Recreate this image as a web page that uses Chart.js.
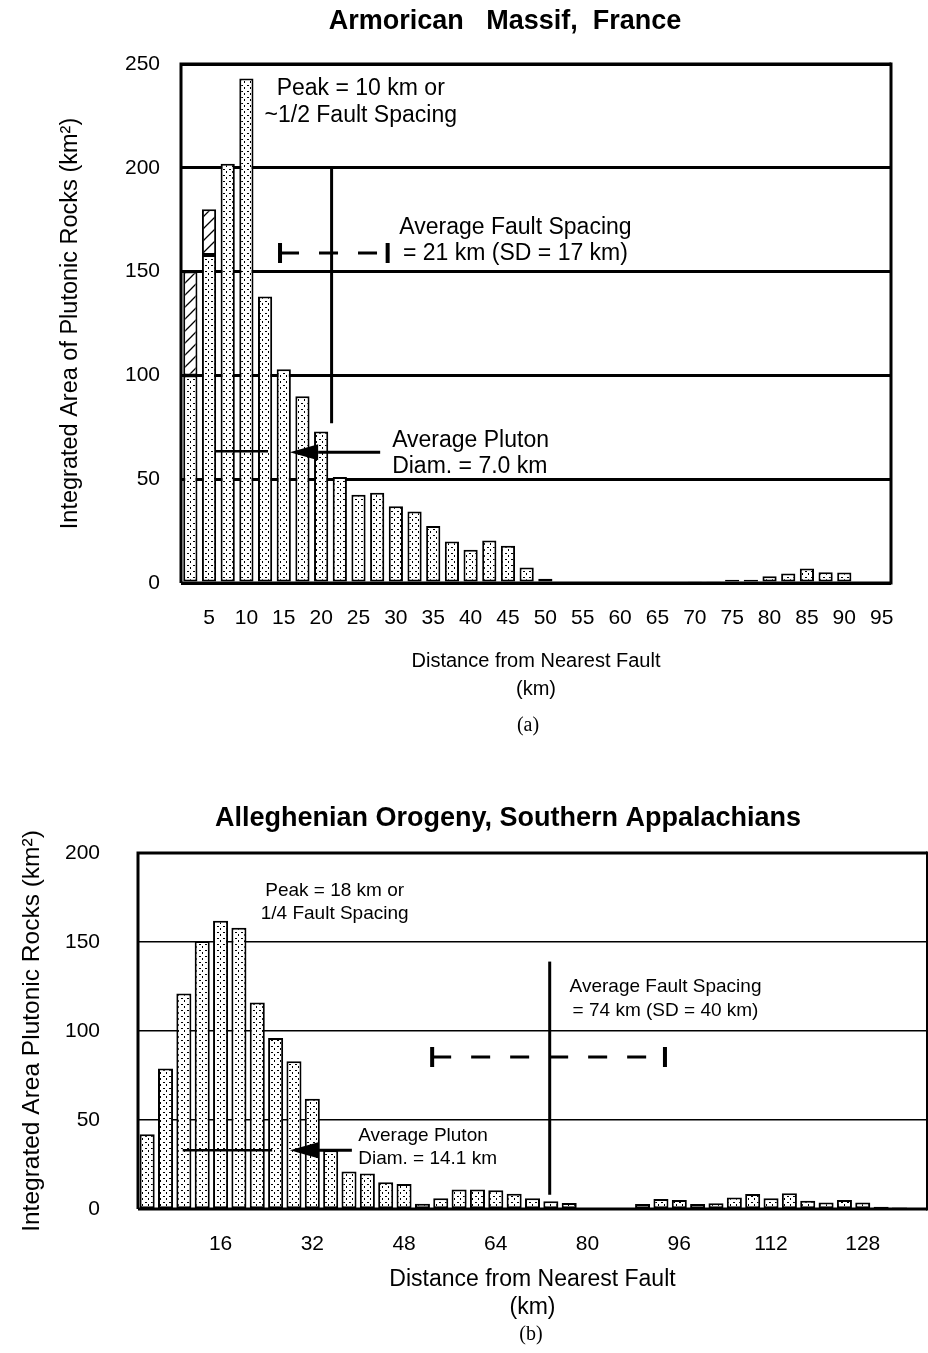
<!DOCTYPE html>
<html>
<head>
<meta charset="utf-8">
<script src="https://cdn.jsdelivr.net/npm/chart.js@4.4.1/dist/chart.umd.min.js"></script>
<style>
  body { margin: 0; background: #fff; }
  #wrap { position: relative; width: 928px; height: 1353px; }
  canvas { position: absolute; left: 0; }
</style>
</head>
<body>
<div id="wrap">
  <canvas id="chartA" width="928" height="745" style="top:0"></canvas>
  <canvas id="chartB" width="928" height="608" style="top:745px"></canvas>
</div>
<script>
// (a) Armorican Massif, 2.5 km bins
const kmA = [2.5, 5, 7.5, 10, 12.5, 15, 17.5, 20, 22.5, 25, 27.5, 30, 32.5, 35, 37.5, 40, 42.5, 45, 47.5, 50,
             52.5, 55, 57.5, 60, 62.5, 65, 67.5, 70, 72.5, 75, 77.5, 80, 82.5, 85, 87.5, 90, 92.5, 95];
const areaA = [100, 158, 202, 243, 138, 103, 90, 73, 51, 42.5, 43.5, 37, 34.5, 27.5, 20, 16, 20.5, 18, 7.5, 2,
               0, 0, 0, 0, 0, 0, 0, 0.8, 0.8, 1.6, 1.6, 3.3, 4.6, 7, 5.2, 5, 0, 0];
const hatchA = [50, 22, 0, 0, 0, 0, 0, 0, 0, 0, 0, 0, 0, 0, 0, 0, 0, 0, 0, 0,
                0, 0, 0, 0, 0, 0, 0, 0, 0, 0, 0, 0, 0, 0, 0, 0, 0, 0];
const tickLabelsA = ['5', '10', '15', '20', '25', '30', '35', '40', '45', '50', '55', '60', '65', '70', '75', '80', '85', '90', '95'];

// (b) Alleghenian Orogeny, 3.2 km bins
const kmB = [3.2, 6.4, 9.6, 12.8, 16, 19.2, 22.4, 25.6, 28.8, 32, 35.2, 38.4, 41.6, 44.8, 48, 51.2, 54.4, 57.6, 60.8, 64,
             67.2, 70.4, 73.6, 76.8, 80, 83.2, 86.4, 89.6, 92.8, 96, 99.2, 102.4, 105.6, 108.8, 112, 115.2, 118.4, 121.6,
             124.8, 128, 131.2, 134.4, 137.6];
const areaB = [42, 79, 121, 150.5, 162, 158, 116, 96, 83, 62, 33, 21, 20, 15, 14, 3, 6, 11, 11, 10.5,
               8.5, 6, 4.3, 3.4, 0, 0, 0, 2.8, 5.6, 5, 2.8, 3.2, 6.5, 8.4, 6, 8.8, 4.7, 3.7, 5, 3.7,
               1.3, 0.8, 0];
const tickLabelsB = ['16', '32', '48', '64', '80', '96', '112', '128'];

// annotations, in km / km2
const notesA = {
  bin: 2.5,
  peak: {km: 25.3, lines: [[238, 'Peak = 10 km or'], [225, '~1/2 Fault Spacing']]},
  spacing: {km: 46, lines: [[171, 'Average Fault Spacing'], [158.5, '= 21 km (SD = 17 km)']]},
  fault: {km: 21.4, from: 200, to: 77},
  dash: {from: 14.5, to: 28.9, at: 159},
  pluton: {from: 5.8, to: 12.9, at: 63.5},
  arrow: {tip: 15.8, base: 19.6, tail: 27.9, at: 63},
  plutonText: {km: 29.5, lines: [[68.4, 'Average Pluton'], [55.9, 'Diam. = 7.0 km']]},
  font: 23
};
const notesB = {
  bin: 3.2,
  peak: {km: 35.9, lines: [[179, 'Peak = 18 km or'], [165.7, '1/4 Fault Spacing']]},
  spacing: {km: 93.6, lines: [[124.7, 'Average Fault Spacing'], [111.2, '= 74 km (SD = 40 km)']]},
  fault: {km: 73.4, from: 139, to: 8},
  dash: {from: 52.9, to: 93.5, at: 85.4},
  pluton: {from: 9.4, to: 25, at: 33},
  arrow: {tip: 28.1, base: 33, tail: 38.9, at: 33},
  plutonText: {km: 40, lines: [[41, 'Average Pluton'], [28.1, 'Diam. = 14.1 km']]},
  font: 19
};

const SANS = '"Liberation Sans", Arial, Helvetica, sans-serif';

function makePatterns(canvas) {
  const ctx = canvas.getContext('2d');
  const d = document.createElement('canvas');
  d.width = 6; d.height = 6;
  let g = d.getContext('2d');
  g.fillStyle = '#fff'; g.fillRect(0, 0, 6, 6);
  g.fillStyle = '#000';
  g.fillRect(1, 1, 2, 1); g.fillRect(4, 3, 1, 2);
  const h = document.createElement('canvas');
  h.width = 12; h.height = 12;
  g = h.getContext('2d');
  g.fillStyle = '#fff'; g.fillRect(0, 0, 12, 12);
  g.strokeStyle = '#000'; g.lineWidth = 1.3;
  g.beginPath();
  g.moveTo(-1, 13); g.lineTo(13, -1);
  g.moveTo(-7, 7); g.lineTo(7, -7);
  g.moveTo(5, 19); g.lineTo(19, 5);
  g.stroke();
  return {dots: ctx.createPattern(d, 'repeat'), hatch: ctx.createPattern(h, 'repeat')};
}

// draws the notes, arrows and frame on top of the bars
function notesPlugin(n, frameRight) {
  return {
    id: 'notes',
    afterDatasetsDraw(chart) {
      const {ctx, chartArea: a, scales: {x, y}} = chart;
      const X = km => x.getPixelForValue(km / n.bin - 1);
      ctx.save();
      ctx.strokeStyle = '#000';
      ctx.fillStyle = '#000';
      ctx.lineWidth = 3;

      // mean fault spacing marker
      ctx.beginPath();
      ctx.moveTo(X(n.fault.km), y.getPixelForValue(n.fault.from));
      ctx.lineTo(X(n.fault.km), y.getPixelForValue(n.fault.to));
      ctx.stroke();

      const dy = y.getPixelForValue(n.dash.at);
      const x0 = X(n.dash.from), x1 = X(n.dash.to);
      ctx.setLineDash([19, 20]);
      ctx.beginPath(); ctx.moveTo(x0, dy); ctx.lineTo(x1, dy); ctx.stroke();
      ctx.setLineDash([]);
      ctx.lineWidth = 4;
      ctx.beginPath();
      ctx.moveTo(x0, dy - 10); ctx.lineTo(x0, dy + 10);
      ctx.moveTo(x1, dy - 10); ctx.lineTo(x1, dy + 10);
      ctx.stroke();

      // pluton diameter bar and arrow
      ctx.lineWidth = 2.5;
      const py = y.getPixelForValue(n.pluton.at);
      ctx.beginPath(); ctx.moveTo(X(n.pluton.from), py); ctx.lineTo(X(n.pluton.to), py); ctx.stroke();
      const ay = y.getPixelForValue(n.arrow.at);
      ctx.lineWidth = 3;
      ctx.beginPath(); ctx.moveTo(X(n.arrow.base), ay); ctx.lineTo(X(n.arrow.tail), ay); ctx.stroke();
      ctx.beginPath();
      ctx.moveTo(X(n.arrow.tip), ay);
      ctx.lineTo(X(n.arrow.base), ay - 8);
      ctx.lineTo(X(n.arrow.base), ay + 8);
      ctx.closePath(); ctx.fill();

      // texts
      ctx.font = n.font + 'px ' + SANS;
      ctx.textBaseline = 'middle';
      ctx.textAlign = 'center';
      n.peak.lines.forEach(([v, t]) => ctx.fillText(t, X(n.peak.km), y.getPixelForValue(v)));
      n.spacing.lines.forEach(([v, t]) => ctx.fillText(t, X(n.spacing.km), y.getPixelForValue(v)));
      ctx.textAlign = 'left';
      n.plutonText.lines.forEach(([v, t]) => ctx.fillText(t, X(n.plutonText.km), y.getPixelForValue(v)));

      // frame
      ctx.lineWidth = 3;
      ctx.beginPath();
      ctx.moveTo(a.left, a.bottom); ctx.lineTo(a.left, a.top); ctx.lineTo(a.right, a.top);
      ctx.moveTo(a.left, a.bottom); ctx.lineTo(a.right, a.bottom);
      ctx.stroke();
      ctx.lineWidth = frameRight;
      ctx.beginPath(); ctx.moveTo(a.right, a.top - 1.5); ctx.lineTo(a.right, a.bottom + 1.5); ctx.stroke();
      ctx.restore();
    }
  };
}

function captionsPlugin(title, tx, ty, tsize, tag, gx, gy) {
  return {
    id: 'captions',
    afterDraw(chart) {
      const ctx = chart.ctx;
      ctx.save();
      ctx.fillStyle = '#000';
      ctx.textAlign = 'center';
      ctx.textBaseline = 'middle';
      ctx.font = 'bold ' + tsize + 'px ' + SANS;
      ctx.fillText(title, tx, ty);
      ctx.font = '20px "Liberation Serif", "Times New Roman", serif';
      ctx.fillText(tag, gx, gy);
      ctx.restore();
    }
  };
}

function baseOptions(cfg) {
  return {
    responsive: false,
    animation: false,
    devicePixelRatio: 1,
    layout: {padding: {left: 0, right: cfg.padRight, top: cfg.padTop, bottom: 0}},
    plugins: {legend: {display: false}, tooltip: {enabled: false}},
    scales: {
      x: {
        stacked: true,
        grid: {display: false},
        border: {display: false},
        ticks: {
          autoSkip: false, maxRotation: 0, minRotation: 0, padding: cfg.xPad, color: '#000',
          font: {family: SANS, size: cfg.tickSize},
          callback: (v, i) => cfg.tickLabels.includes(String(cfg.km[i])) ? String(cfg.km[i]) : ''
        },
        title: {
          display: true, text: ['Distance from Nearest Fault', '(km)'], color: '#000',
          font: {family: SANS, size: cfg.xTitleSize, lineHeight: cfg.xTitleLH},
          padding: {top: 0, bottom: cfg.xTitlePad}
        },
        afterFit: s => { s.height = cfg.xHeight; s.paddingLeft = 0; s.paddingRight = 0; }
      },
      y: {
        stacked: true,
        min: 0, max: cfg.yMax,
        grid: {color: '#000', lineWidth: cfg.gridWidth, drawTicks: false},
        border: {display: false},
        ticks: {stepSize: 50, padding: cfg.yPad, color: '#000', font: {family: SANS, size: cfg.tickSize}},
        title: {
          display: true, text: cfg.yTitle, color: '#000',
          font: {family: SANS, size: cfg.yTitleSize},
          padding: {top: cfg.yTitlePad, bottom: 0}
        },
        afterFit: s => { s.width = cfg.yWidth; s.paddingTop = 0; s.paddingBottom = 0; }
      }
    }
  };
}

const canA = document.getElementById('chartA');
const patA = makePatterns(canA);
new Chart(canA, {
  type: 'bar',
  data: {
    labels: kmA.map(String),
    datasets: [
      {data: areaA, backgroundColor: patA.dots, borderColor: '#000', borderWidth: 2, borderSkipped: false,
       barPercentage: 0.76, categoryPercentage: 1},
      {data: hatchA, backgroundColor: patA.hatch, borderColor: '#000', borderWidth: 2, borderSkipped: false,
       barPercentage: 0.76, categoryPercentage: 1}
    ]
  },
  options: baseOptions({
    padRight: 37, padTop: 64, xHeight: 162, yWidth: 181, yMax: 250,
    km: kmA, tickLabels: tickLabelsA, tickSize: 21, xPad: 15, yPad: 21, gridWidth: 3,
    xTitleSize: 20, xTitleLH: 1.4, xTitlePad: 42,
    yTitle: 'Integrated Area of Plutonic Rocks (km²)', yTitleSize: 23.5, yTitlePad: 56
  }),
  plugins: [notesPlugin(notesA, 3), captionsPlugin('Armorican   Massif,  France', 505, 22, 27, '(a)', 528, 726)]
});

const canB = document.getElementById('chartB');
const patB = makePatterns(canB);
new Chart(canB, {
  type: 'bar',
  data: {
    labels: kmB.map(String),
    datasets: [
      {data: areaB, backgroundColor: patB.dots, borderColor: '#000', borderWidth: 2, borderSkipped: false,
       barPercentage: 0.82, categoryPercentage: 1}
    ]
  },
  options: baseOptions({
    padRight: 1, padTop: 108, xHeight: 144, yWidth: 138, yMax: 200,
    km: kmB, tickLabels: tickLabelsB, tickSize: 21, xPad: 15, yPad: 38, gridWidth: 1.5,
    xTitleSize: 23, xTitleLH: 1.2, xTitlePad: 32,
    yTitle: 'Integrated Area Plutonic Rocks (km²)', yTitleSize: 24.5, yTitlePad: 18
  }),
  plugins: [notesPlugin(notesB, 2), captionsPlugin('Alleghenian Orogeny, Southern Appalachians', 508, 74, 27, '(b)', 531, 590)]
});
</script>
</body>
</html>
